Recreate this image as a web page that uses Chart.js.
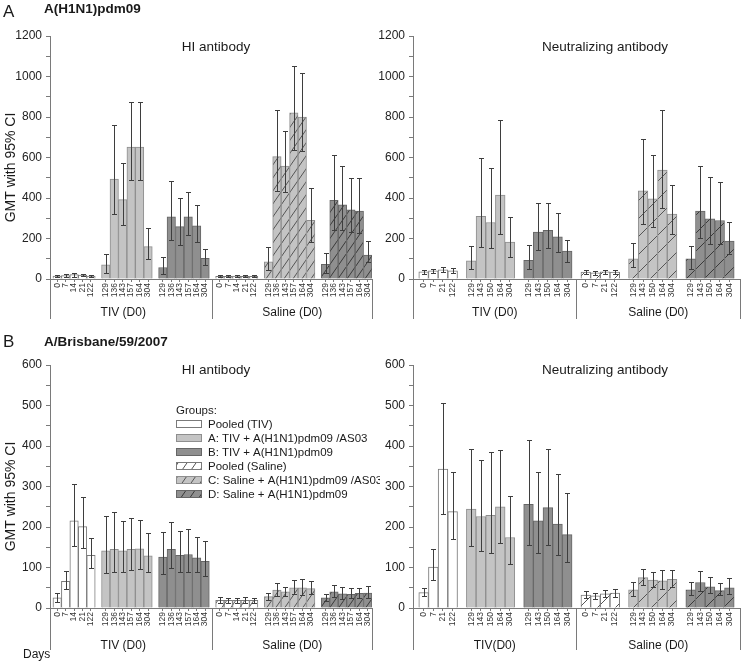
<!DOCTYPE html>
<html><head><meta charset="utf-8">
<script src="https://cdn.jsdelivr.net/npm/chart.js@4/dist/chart.umd.min.js"></script>
<style>
html,body{margin:0;padding:0;background:#fff;}
#wrap{position:relative;width:742px;height:662px;overflow:hidden;background:#fff;}
canvas{position:absolute;}
</style></head><body>
<div id="wrap">
<canvas id="cA1" width="380" height="330" style="left:0;top:0"></canvas>
<canvas id="cA2" width="371" height="330" style="left:371px;top:0"></canvas>
<canvas id="cB1" width="380" height="332" style="left:0;top:330px"></canvas>
<canvas id="cB2" width="371" height="332" style="left:371px;top:330px"></canvas>
</div>
<script>
// ---------- categories ----------
const groupNames = ['Pooled (TIV)', 'A: TIV + A(H1N1)pdm09 /AS03', 'B: TIV + A(H1N1)pdm09',
                    'Pooled (Saline)', 'C: Saline + A(H1N1)pdm09 /AS03', 'D: Saline + A(H1N1)pdm09'];
const hiPooledDays = ['0','7','14','21','122'];
const hiBoostDays  = ['129','136','143','157','164','304'];
const naPooledDays = ['0','7','21','122'];
const naBoostDays  = ['129','143','150','164','304'];

// ---------- A(H1N1)pdm09 : HI antibody (GMT, 95% CI low, 95% CI high) ----------
const h1HiGmt = [15,17,22,19,14, 70,494,392,652,652,160, 57,307,259,307,262,102, 13,13,14,13,13, 85,604,558,820,800,290, 72,389,366,341,336,118];
const h1HiLo  = [10,11,12,14,10, 30,322,267,489,489,98, 25,194,166,217,185,67, 9,9,10,9,9, 42,435,428,637,632,185, 30,240,240,231,225,84];
const h1HiHi  = [20,24,32,26,18, 125,760,571,872,872,254, 107,484,402,430,363,149, 18,18,19,18,18, 157,837,730,1054,1015,450, 130,612,557,499,499,189];

// ---------- A(H1N1)pdm09 : Neutralizing antibody ----------
const h1NaGmt = [35,40,45,40, 90,309,279,414,182, 92,232,240,208,138, 34,30,35,34, 100,435,396,538,320, 100,336,297,289,187];
const h1NaLo  = [27,31,35,30, 49,158,151,220,107, 49,141,151,133,85, 25,22,26,25, 57,271,256,350,220, 49,202,174,175,125];
const h1NaHi  = [45,50,58,52, 161,598,548,783,304, 169,373,373,325,194, 44,40,45,44, 177,693,611,834,463, 161,557,504,479,281];

// ---------- A/Brisbane/59/2007 : HI antibody ----------
const brHiGmt = [25,66,215,201,130, 141,145,141,145,146,129, 126,145,130,132,124,115, 19,19,19,19,19, 28,44,40,50,50,48, 25,40,35,34,36,37];
const brHiLo  = [16,47,152,148,99, 87,90,90,93,97,90, 85,98,88,88,88,80, 13,13,13,13,13, 20,30,30,35,33,35, 17,27,23,24,24,25];
const brHiHi  = [37,92,305,274,173, 228,236,215,222,217,185, 187,213,190,195,175,165, 26,24,25,26,25, 36,62,53,70,72,66, 35,58,53,49,50,55];

// ---------- A/Brisbane/59/2007 : Neutralizing antibody ----------
const brNaGmt = [38,101,343,238, 244,226,229,250,174, 256,215,248,207,181, 32,30,35,37, 45,75,69,67,71, 45,63,52,43,50];
const brNaLo  = [29,70,232,171, 152,140,136,160,108, 156,136,155,130,113, 24,23,27,28, 30,57,52,48,53, 31,43,37,31,34];
const brNaHi  = [49,145,507,335, 393,366,385,389,277, 415,337,392,331,284, 42,38,44,47, 64,96,88,93,93, 63,92,76,61,74];

// ---------- styling ----------
const FONT = "'Liberation Sans', Arial, Helvetica, sans-serif";
Chart.defaults.font.family = FONT;
Chart.defaults.color = '#222';

function hatch(ctx, bg, line, w, h) {
  const t = document.createElement('canvas'); t.width = w; t.height = h;
  const g = t.getContext('2d');
  g.fillStyle = bg; g.fillRect(0, 0, w, h);
  g.strokeStyle = line; g.lineWidth = 1;
  for (const off of [-w, 0, w]) {
    g.beginPath(); g.moveTo(off - 1, h + h / w); g.lineTo(off + w + 1, -h / w); g.stroke();
  }
  return ctx.createPattern(t, 'repeat');
}
function groupStyles(ctx, tw, th) {
  return [
    { fill: '#ffffff', border: '#7a7a7a' },
    { fill: '#c4c4c4', border: '#8e8e8e' },
    { fill: '#8f8f8f', border: '#666666' },
    { fill: hatch(ctx, '#ffffff', '#555555', tw, th), border: '#7a7a7a' },
    { fill: hatch(ctx, '#c4c4c4', '#555555', tw, th), border: '#8e8e8e' },
    { fill: hatch(ctx, '#8f8f8f', '#3a3a3a', tw, th), border: '#666666' }
  ];
}

function panel(id, o) {
  const canvas = document.getElementById(id);
  const ctx = canvas.getContext('2d');
  const groupsDays = [o.pooled, o.boost, o.boost, o.pooled, o.boost, o.boost];
  const labels = [], pos = [], groupOf = [];
  let p = 0;
  groupsDays.forEach((days, g) => {
    days.forEach(d => { labels.push(d); pos.push(p); groupOf.push(g); p += 1; });
    p += o.gap;
  });
  const nTIV = groupsDays[0].length + groupsDays[1].length + groupsDays[2].length;
  const sepValue = (pos[nTIV - 1] + pos[nTIV]) / 2;
  const st = groupStyles(ctx, o.tileW, o.tileH);
  const data = o.gmt.map((v, i) => ({ x: pos[i], y: v }));

  const errPlugin = {
    id: 'err_' + id,
    afterDatasetsDraw(chart) {
      const meta = chart.getDatasetMeta(0), ys = chart.scales.y, c = chart.ctx;
      c.save(); c.strokeStyle = '#3e3e3e'; c.lineWidth = 1;
      meta.data.forEach((bar, i) => {
        const x = Math.round(bar.x) + 0.5;
        const y1 = Math.round(ys.getPixelForValue(o.lo[i])) + 0.5;
        const y2 = Math.round(ys.getPixelForValue(o.hi[i])) + 0.5;
        c.beginPath();
        c.moveTo(x, y1); c.lineTo(x, y2);
        c.moveTo(x - 2.5, y1); c.lineTo(x + 2.5, y1);
        c.moveTo(x - 2.5, y2); c.lineTo(x + 2.5, y2);
        c.stroke();
      });
      c.restore();
    }
  };

  const decor = {
    id: 'decor_' + id,
    afterDraw(chart) {
      const c = chart.ctx, a = chart.chartArea, xs = chart.scales.x;
      c.save();
      c.fillStyle = '#1a1a1a'; c.textBaseline = 'middle';
      if (o.letter) {
        c.textAlign = 'left';
        c.font = '17px ' + FONT; c.fillText(o.letter, 3, o.letterY);
        c.font = 'bold 13.5px ' + FONT; c.fillText(o.subtitle, 44, o.subtitleY);
      }
      if (o.yTitle) {
        c.save();
        c.translate(11, (a.top + a.bottom) / 2 + 10);
        c.rotate(-Math.PI / 2);
        c.textAlign = 'center'; c.font = '14px ' + FONT;
        c.fillText('GMT with 95% CI', 0, 0);
        c.restore();
      }
      c.textAlign = 'center';
      c.font = '13.5px ' + FONT;
      c.fillText(o.title, a.left + o.titleDx, a.top + o.titleDy);
      const sepX = xs.getPixelForValue(sepValue);
      c.strokeStyle = '#7a7a7a'; c.lineWidth = 1;
      [a.left, sepX, a.right].forEach(x => {
        const px = Math.round(x) + 0.5;
        c.beginPath(); c.moveTo(px, a.bottom); c.lineTo(px, a.bottom + o.sepLen); c.stroke();
      });
      c.font = '12px ' + FONT;
      c.fillText(o.tivLabel, (a.left + sepX) / 2 + o.tivDx, a.bottom + o.groupDy);
      c.fillText('Saline (D0)', (sepX + a.right) / 2, a.bottom + o.groupDy);
      if (o.daysLabel) { c.textAlign = 'left'; c.fillText('Days', 23, a.bottom + 47); }
      if (o.legend) {
        const lx = a.left + 126;
        c.textAlign = 'left'; c.font = '11.5px ' + FONT;
        c.fillText('Groups:', lx, a.top + 46);
        groupNames.forEach((name, g) => {
          const cy = a.top + 59 + g * 14;
          c.fillStyle = st[g].fill; c.fillRect(lx, cy - 4, 26, 8);
          c.strokeStyle = st[g].border; c.strokeRect(lx + 0.5, cy - 3.5, 25, 7);
          c.fillStyle = '#1a1a1a'; c.fillText(name, lx + 32, cy + 0.5);
        });
      }
      c.restore();
    }
  };

  return new Chart(ctx, {
    type: 'bar',
    data: { datasets: [{
      data,
      backgroundColor: c => st[groupOf[c.dataIndex]].fill,
      borderColor: c => st[groupOf[c.dataIndex]].border,
      borderWidth: 1,
      borderSkipped: 'bottom',
      barPercentage: 1,
      categoryPercentage: 1
    }] },
    options: {
      responsive: false, animation: false, events: [],
      layout: { padding: { top: o.padTop, bottom: o.padBottom, left: 0, right: o.padRight } },
      plugins: { legend: { display: false }, tooltip: { enabled: false } },
      scales: {
        x: {
          type: 'linear', offset: false,
          min: -0.5 - o.leftPad, max: pos[pos.length - 1] + 0.5 + o.rightPad,
          afterBuildTicks: ax => { ax.ticks = pos.map(v => ({ value: v })); },
          afterFit: ax => { ax.height = 44; },
          ticks: { autoSkip: false, maxRotation: 90, minRotation: 90, font: { size: 8.5 }, padding: 1, color: '#333',
                   callback: (v, i) => labels[i] },
          grid: { drawOnChartArea: false, offset: false, tickLength: 3, color: '#7a7a7a' },
          border: { color: '#7a7a7a' }
        },
        y: {
          min: 0, max: o.yMax,
          afterFit: ax => { ax.width = o.yWidth; },
          ticks: { stepSize: o.yMinor, autoSkip: false, font: { size: 12 }, padding: 4, color: '#222',
                   callback: v => (v % o.yMajor === 0 ? v : '') },
          grid: { drawOnChartArea: false, tickLength: 4, color: '#7a7a7a' },
          border: { color: '#7a7a7a' },
          title: { display: false }
        }
      }
    },
    plugins: [errPlugin, decor]
  });
}

const hiLayout = { pooled: hiPooledDays, boost: hiBoostDays, gap: 0.75, leftPad: 0.35, rightPad: 0,
                   tileW: 9, tileH: 13, yWidth: 50, padRight: 8, yTitle: true, titleDx: 166, tivLabel: 'TIV (D0)', tivDx: -8 };
const naLayout = { pooled: naPooledDays, boost: naBoostDays, gap: 0.92, leftPad: 0.6, rightPad: 0.6,
                   tileW: 18, tileH: 18, yWidth: 42, padRight: 2, yTitle: false, titleDx: 192, tivDx: 0 };

panel('cA1', Object.assign({}, hiLayout, { gmt: h1HiGmt, lo: h1HiLo, hi: h1HiHi, yMax: 1200, yMinor: 100, yMajor: 200,
  padTop: 36, padBottom: 7, title: 'HI antibody', titleDy: 11, groupDy: 34, sepLen: 40,
  letter: 'A', letterY: 12, subtitle: 'A(H1N1)pdm09', subtitleY: 9 }));
panel('cA2', Object.assign({}, naLayout, { gmt: h1NaGmt, lo: h1NaLo, hi: h1NaHi, yMax: 1200, yMinor: 100, yMajor: 200,
  padTop: 36, padBottom: 7, title: 'Neutralizing antibody', titleDy: 11, groupDy: 34, sepLen: 40, tivLabel: 'TIV (D0)' }));
panel('cB1', Object.assign({}, hiLayout, { gmt: brHiGmt, lo: brHiLo, hi: brHiHi, yMax: 600, yMinor: 50, yMajor: 100,
  padTop: 35, padBottom: 10, title: 'HI antibody', titleDy: 5, groupDy: 38, sepLen: 42,
  letter: 'B', letterY: 12, subtitle: 'A/Brisbane/59/2007', subtitleY: 12, legend: true, daysLabel: true }));
panel('cB2', Object.assign({}, naLayout, { gmt: brNaGmt, lo: brNaLo, hi: brNaHi, yMax: 600, yMinor: 50, yMajor: 100,
  padTop: 35, padBottom: 10, title: 'Neutralizing antibody', titleDy: 5, groupDy: 38, sepLen: 42, tivLabel: 'TIV(D0)' }));
</script>
</body></html>
